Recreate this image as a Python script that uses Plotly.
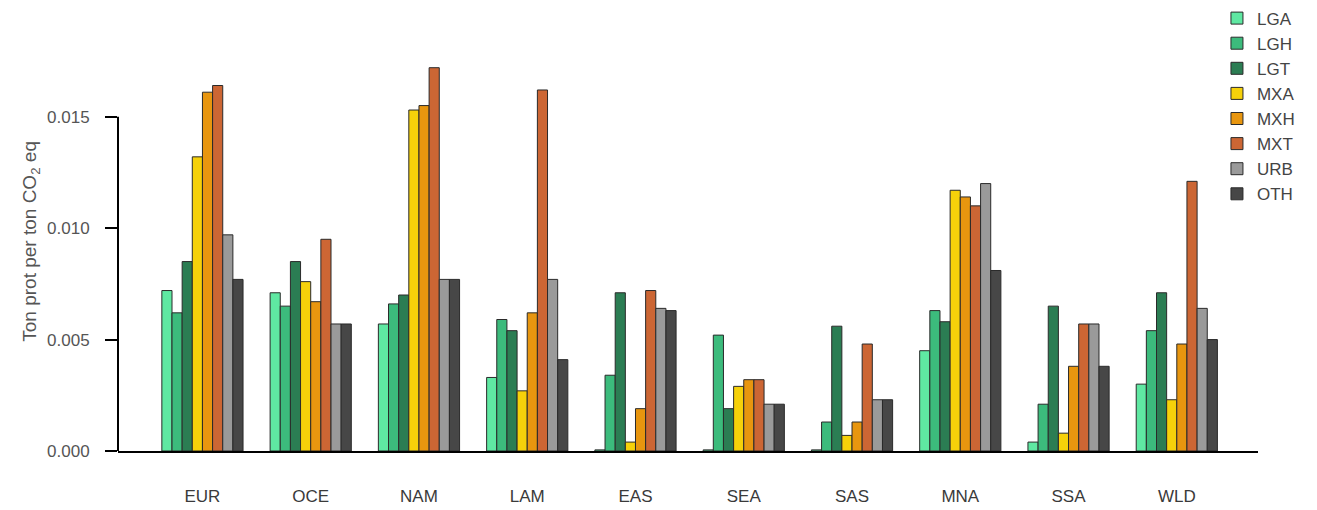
import plotly.graph_objects as go

regions = ["EUR", "OCE", "NAM", "LAM", "EAS", "SEA", "SAS", "MNA", "SSA", "WLD"]
series_names = ["LGA", "LGH", "LGT", "MXA", "MXH", "MXT", "URB", "OTH"]

LGA = [0.0072, 0.0071, 0.0057, 0.0033, 0.00005, 0.00005, 0.00005, 0.0045, 0.0004, 0.0030]
LGH = [0.0062, 0.0065, 0.0066, 0.0059, 0.0034, 0.0052, 0.0013, 0.0063, 0.0021, 0.0054]
LGT = [0.0085, 0.0085, 0.0070, 0.0054, 0.0071, 0.0019, 0.0056, 0.0058, 0.0065, 0.0071]
MXA = [0.0132, 0.0076, 0.0153, 0.0027, 0.0004, 0.0029, 0.0007, 0.0117, 0.0008, 0.0023]
MXH = [0.0161, 0.0067, 0.0155, 0.0062, 0.0019, 0.0032, 0.0013, 0.0114, 0.0038, 0.0048]
MXT = [0.0164, 0.0095, 0.0172, 0.0162, 0.0072, 0.0032, 0.0048, 0.0110, 0.0057, 0.0121]
URB = [0.0097, 0.0057, 0.0077, 0.0077, 0.0064, 0.0021, 0.0023, 0.0120, 0.0057, 0.0064]
OTH = [0.0077, 0.0057, 0.0077, 0.0041, 0.0063, 0.0021, 0.0023, 0.0081, 0.0038, 0.0050]

colors = ["#5fe8a2", "#3cbb7c", "#2b7d53", "#f6d10a", "#e8960f", "#cc6634", "#9a9a9a", "#474747"]
y_ticks = [0.000, 0.005, 0.010, 0.015]
y_tick_text = ["0.000", "0.005", "0.010", "0.015"]
y_title = "Ton prot per ton CO<sub>2</sub> eq"

values = [LGA, LGH, LGT, MXA, MXH, MXT, URB, OTH]

fig = go.Figure()
for name, vals, col in zip(series_names, values, colors):
    fig.add_trace(go.Bar(
        x=regions, y=vals, name=name,
        marker=dict(color=col, line=dict(color="#2a2a2a", width=1)),
    ))

# page body has an 8px margin: figure is sized/offset to compensate
fig.update_layout(
    width=1309, height=502,
    paper_bgcolor="white", plot_bgcolor="white",
    margin=dict(l=110, r=59, t=53, b=59, autoexpand=False),
    barmode="group", bargap=0.25, bargroupgap=0,
    font=dict(family="Liberation Sans, Arial, sans-serif", color="#444444"),
    legend=dict(x=0.964, y=1.155, xanchor="left", yanchor="top",
                font=dict(size=17, color="#444444"), tracegroupgap=0,
                itemwidth=30, bgcolor="rgba(0,0,0,0)"),
    showlegend=True,
)
fig.update_xaxes(
    range=[-0.78, 9.75], showgrid=False, showline=True, linecolor="black", linewidth=2,
    ticks="", tickfont=dict(size=17, color="#3a3a3a"), ticklabelstandoff=29,
    zeroline=False, automargin=False,
)
fig.update_yaxes(
    range=[0, 0.0175], showgrid=False, showline=False, zeroline=False, automargin=False,
    tickvals=y_ticks, ticktext=y_tick_text, ticks="outside", ticklen=12, tickwidth=2,
    tickcolor="black", tickfont=dict(size=17, color="#555555"), ticklabelstandoff=12,
)
fig.add_annotation(
    text=y_title, textangle=-90, xref="paper", yref="y", x=-0.077, y=0.0094,
    xanchor="center", yanchor="middle", showarrow=False,
    font=dict(size=19, color="#555555"),
)
fig.add_shape(type="line", xref="paper", yref="y", x0=0, x1=0, y0=0, y1=0.015,
              line=dict(color="black", width=2))

fig.write_html("out.html")
